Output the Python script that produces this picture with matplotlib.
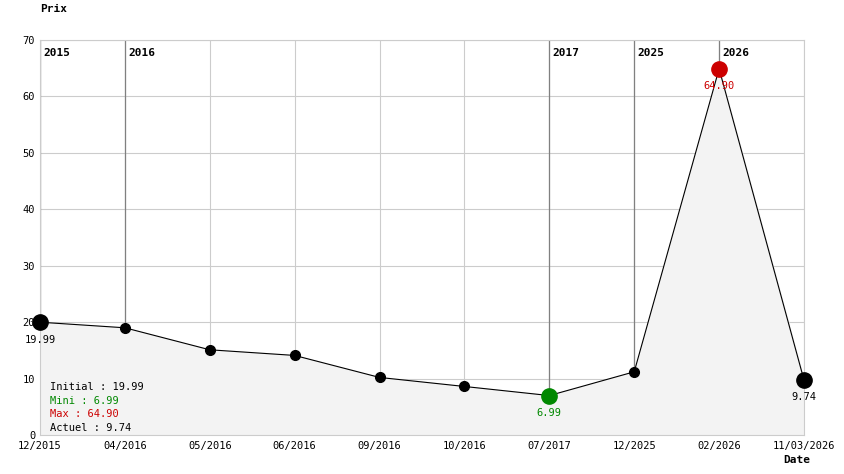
import matplotlib
matplotlib.use("Agg")
import matplotlib.pyplot as plt

dates = ["12/2015", "04/2016", "05/2016", "06/2016", "09/2016", "10/2016",
         "07/2017", "12/2025", "02/2026", "11/03/2026"]
prix = [19.99, 19.0, 15.1, 14.1, 10.2, 8.6, 6.99, 11.2, 64.90, 9.74]
years = {0: "2015", 1: "2016", 6: "2017", 7: "2025", 8: "2026"}

plt.rcParams['font.family'] = ['DejaVu Sans Mono']
fig = plt.figure(figsize=(8.44, 4.74), dpi=100)
ax = fig.add_axes([40/844, 39/474, 764/844, 395/474])
x = list(range(len(prix)))

ax.set_xlim(0, len(prix) - 1)
ax.set_ylim(0, 70)
ax.set_yticks(range(0, 71, 10))
ax.set_xticks(x)
ax.set_xticklabels(dates, fontsize=7.5)
ax.tick_params(axis='y', labelsize=7.5, length=0)
ax.tick_params(axis='x', length=0, pad=4)
ax.grid(True, color="#cccccc", linewidth=0.8)
ax.set_axisbelow(True)
for s in ax.spines.values():
    s.set_color("#cccccc")

for i, yr in years.items():
    ax.axvline(i, color="#808080", linewidth=0.9, zorder=1)
    ax.text(i + 0.04, 68.5, yr, fontsize=8, fontweight="bold", va="top")

ax.fill_between(x, prix, 0, color="#f3f3f3", zorder=1)
ax.plot(x, prix, color="black", linewidth=0.8, zorder=2)
imin = prix.index(min(prix))
imax = prix.index(max(prix))
for i, v in enumerate(prix):
    if i == imin:
        c, s = "#008800", 11
    elif i == imax:
        c, s = "#cc0000", 11
    elif i in (0, len(prix) - 1):
        c, s = "black", 11
    else:
        c, s = "black", 7
    ax.plot(i, v, "o", color=c, markersize=s, zorder=3, clip_on=False)

ax.text(0, prix[0] - 2.2, "19.99", fontsize=7.5, ha="center", va="top")
ax.text(imin, prix[imin] - 2.2, "%.2f" % prix[imin], fontsize=7.5, ha="center", va="top", color="#008800")
ax.text(imax, prix[imax] - 2.2, "%.2f" % prix[imax], fontsize=7.5, ha="center", va="top", color="#cc0000")
ax.text(9, prix[9] - 2.2, "%.2f" % prix[9], fontsize=7.5, ha="center", va="top")

legend = [("Initial : %.2f" % prix[0], "black"), ("Mini : %.2f" % min(prix), "#008800"),
          ("Max : %.2f" % max(prix), "#cc0000"), ("Actuel : %.2f" % prix[-1], "black")]
for k, (t, c) in enumerate(legend):
    ax.text(0.12, 8.5 - k * 2.4, t, fontsize=7.5, color=c, va="center")

fig.text(40/844, 1 - 12/474, "Prix", fontsize=8, fontweight="bold", ha="left")
fig.text(783/844, 1 - 463/474, "Date", fontsize=8, fontweight="bold", ha="left")
fig.savefig("out.png", dpi=100)
